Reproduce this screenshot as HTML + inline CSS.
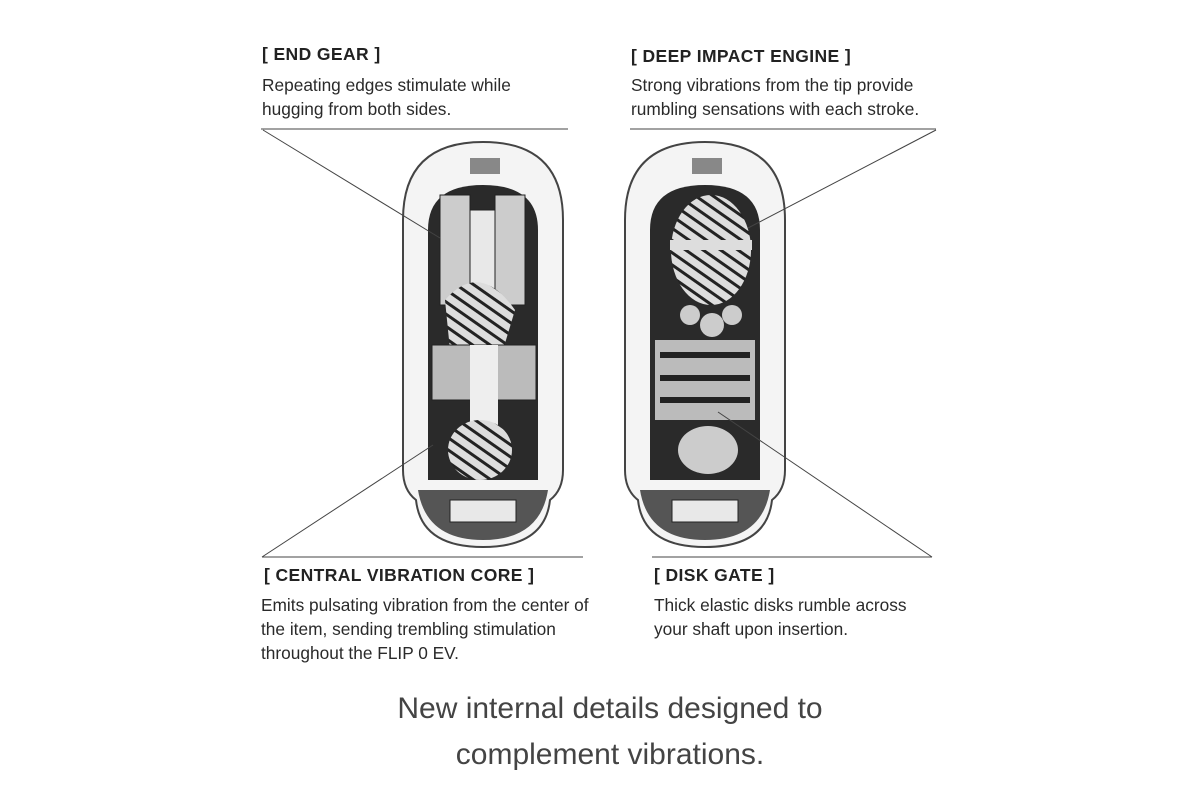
<!DOCTYPE html>
<html><head><meta charset="utf-8"><style>
html,body{margin:0;padding:0;background:#fff;width:1200px;height:800px;overflow:hidden;position:relative;font-family:"Liberation Sans",Arial,sans-serif;color:#222}
.t{position:absolute;white-space:nowrap}
.h{font-size:17.5px;font-weight:bold;letter-spacing:0.4px}
.b{font-size:17.3px;line-height:24px;color:#2a2a2a}
</style></head><body>
<svg width="1200" height="800" style="position:absolute;left:0;top:0">
<defs>
<pattern id="st" width="10" height="10" patternUnits="userSpaceOnUse" patternTransform="rotate(35)"><rect width="10" height="10" fill="#ddd"/><rect width="10" height="3" fill="#222"/></pattern>
</defs>
<!-- left device -->
<g>
<path d="M403 220 Q403 142 483 142 Q563 142 563 220 L563 470 Q563 490 550 500 Q545 547 483 547 Q421 547 416 500 Q403 490 403 470 Z" fill="#f4f4f4" stroke="#444" stroke-width="2"/>
<path d="M428 230 Q428 185 483 185 Q538 185 538 230 L538 480 L428 480 Z" fill="#2a2a2a"/>
<rect x="440" y="195" width="30" height="110" fill="#ccc" stroke="#222"/>
<rect x="495" y="195" width="30" height="110" fill="#ccc" stroke="#222"/>
<rect x="470" y="210" width="25" height="90" fill="#e8e8e8" stroke="#222"/>
<path d="M445 300 Q480 260 515 310 L500 360 L450 350 Z" fill="url(#st)"/>
<rect x="432" y="345" width="104" height="55" fill="#bbb" stroke="#222"/>
<rect x="470" y="345" width="28" height="80" fill="#eee"/>
<ellipse cx="480" cy="450" rx="32" ry="30" fill="url(#st)"/>
<rect x="470" y="158" width="30" height="16" fill="#888"/>
<path d="M418 490 L548 490 Q540 540 483 540 Q426 540 418 490 Z" fill="#555"/>
<rect x="450" y="500" width="66" height="22" fill="#e8e8e8" stroke="#222"/>
</g>
<!-- right device -->
<g>
<path d="M625 220 Q625 142 705 142 Q785 142 785 220 L785 470 Q785 490 772 500 Q767 547 705 547 Q643 547 638 500 Q625 490 625 470 Z" fill="#f4f4f4" stroke="#444" stroke-width="2"/>
<path d="M650 230 Q650 185 705 185 Q760 185 760 230 L760 480 L650 480 Z" fill="#2a2a2a"/>
<ellipse cx="711" cy="250" rx="40" ry="55" fill="url(#st)"/>
<rect x="670" y="240" width="82" height="10" fill="#ddd"/>
<circle cx="690" cy="315" r="10" fill="#ccc"/><circle cx="712" cy="325" r="12" fill="#ccc"/><circle cx="732" cy="315" r="10" fill="#ccc"/>
<rect x="655" y="340" width="100" height="80" fill="#bbb"/>
<g stroke="#222" stroke-width="6"><line x1="660" y1="355" x2="750" y2="355"/><line x1="660" y1="378" x2="750" y2="378"/><line x1="660" y1="400" x2="750" y2="400"/></g>
<ellipse cx="708" cy="450" rx="30" ry="24" fill="#ccc"/>
<rect x="692" y="158" width="30" height="16" fill="#888"/>
<path d="M640 490 L770 490 Q762 540 705 540 Q648 540 640 490 Z" fill="#555"/>
<rect x="672" y="500" width="66" height="22" fill="#e8e8e8" stroke="#222"/>
</g>
<g stroke="#444" stroke-width="1" fill="none">
<line x1="261" y1="129" x2="568" y2="129"/>
<line x1="263" y1="130" x2="440" y2="238"/>
<line x1="630" y1="129" x2="936" y2="129"/>
<line x1="936" y1="130" x2="748" y2="228"/>
<line x1="262" y1="557" x2="583" y2="557"/>
<line x1="262" y1="557" x2="433" y2="445"/>
<line x1="652" y1="557" x2="932" y2="557"/>
<line x1="932" y1="557" x2="718" y2="412"/>
</g>
</svg>
<div class="t h" style="left:262px;top:44px">[ END GEAR ]</div>
<div class="t b" style="left:262px;top:73px">Repeating edges stimulate while<br>hugging from both sides.</div>
<div class="t h" style="left:631px;top:46px">[ DEEP IMPACT ENGINE ]</div>
<div class="t b" style="left:631px;top:73px">Strong vibrations from the tip provide<br>rumbling sensations with each stroke.</div>
<div class="t h" style="left:264px;top:565px">[ CENTRAL VIBRATION CORE ]</div>
<div class="t b" style="left:261px;top:593px">Emits pulsating vibration from the center of<br>the item, sending trembling stimulation<br>throughout the FLIP 0 EV.</div>
<div class="t h" style="left:654px;top:565px">[ DISK GATE ]</div>
<div class="t b" style="left:654px;top:593px">Thick elastic disks rumble across<br>your shaft upon insertion.</div>
<div class="t" style="left:0;width:1220px;text-align:center;top:686px;font-size:30px;line-height:46px;color:#444">New internal details designed to<br>complement vibrations.</div>
</body></html>
